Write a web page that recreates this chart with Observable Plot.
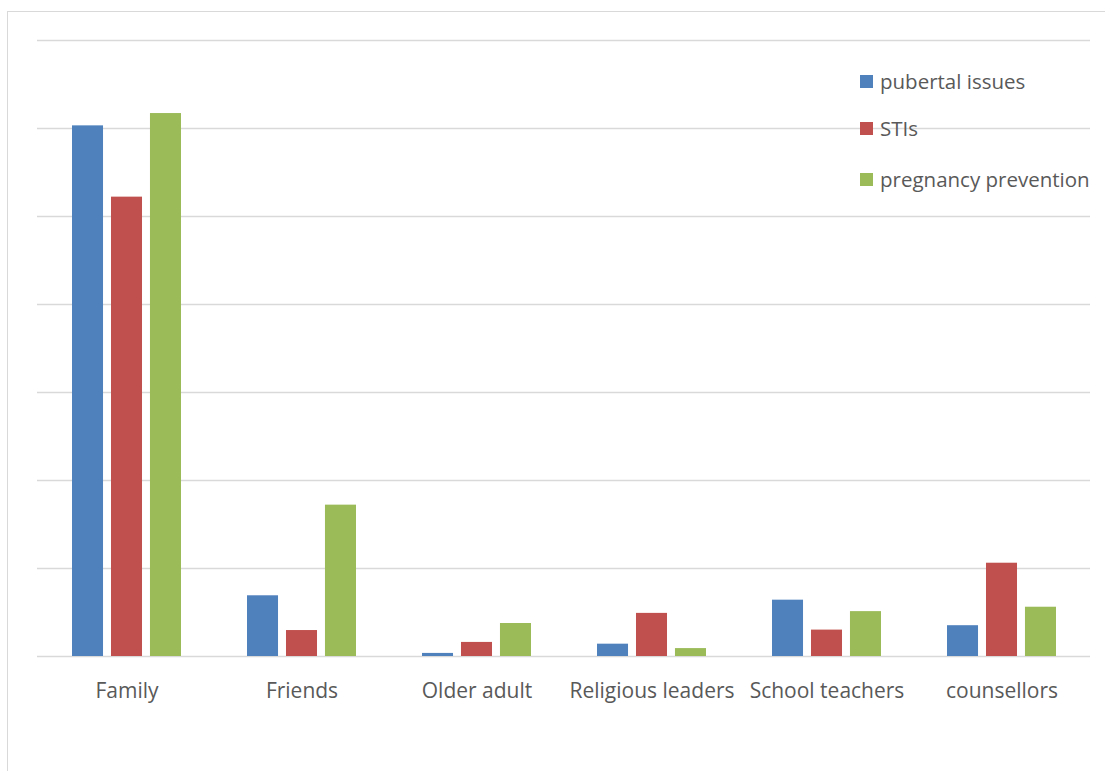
<!DOCTYPE html>
<html>
<head>
<meta charset="utf-8">
<script src="https://cdn.jsdelivr.net/npm/d3@7"></script>
<script src="https://cdn.jsdelivr.net/npm/@observablehq/plot@0.6"></script>
<style>
  html, body { margin: 0; padding: 0; background: #fff; }
  #wrap { position: relative; width: 1105px; height: 771px; overflow: hidden; font-family: "Open Sans", sans-serif; }
  #frame { position: absolute; left: 7px; top: 11px; width: 1200px; height: 900px; border-left: 1.5px solid #d9d9d9; border-top: 1.5px solid #d9d9d9; box-sizing: border-box; }
  #chart { position: absolute; left: 0; top: 0; }
  .item { position: absolute; left: 860px; display: flex; align-items: center; height: 30px; color: #595959; font-size: 20.5px; white-space: nowrap; }
  .sw { width: 13px; height: 13px; margin-right: 7px; }
</style>
</head>
<body>
<div id="wrap">
  <div id="frame"></div>
  <div id="chart"></div>
</div>
<script>
const categories = ["Family", "Friends", "Older adult", "Religious leaders", "School teachers", "counsellors"];
const seriesNames = ["pubertal issues", "STIs", "pregnancy prevention"];
const pubertalIssues = [60.3, 6.9, 0.35, 1.4, 6.4, 3.5];
const stis = [52.2, 2.95, 1.6, 4.9, 3.0, 10.6];
const pregnancyPrevention = [61.7, 17.2, 3.75, 0.9, 5.1, 5.6];
const seriesColors = ["#4f81bd", "#c0504d", "#9bbb59"];
const gridTicks = [0, 10, 20, 30, 40, 50, 60, 70];

const seriesValues = [pubertalIssues, stis, pregnancyPrevention];

const W = 1105, H = 771;
const mL = 37, mR = 15, mT = 40, mB = 115;
const padIn = 0.379, padOut = 0.19;
const plotW = W - mL - mR;
const step = plotW / (categories.length - padIn + 2 * padOut);
const bw = step * (1 - padIn);
const subPad = 0.205;
const sub = bw / (3 - subPad);
const barW = sub * (1 - subPad);

const barMarks = seriesValues.map((vals, i) => {
  const rows = categories.map((c, j) => ({category: c, value: vals[j], series: seriesNames[i]}));
  return Plot.barY(rows, {
    x: "category",
    y: "value",
    fill: seriesColors[i],
    insetLeft: i * sub,
    insetRight: bw - i * sub - barW
  });
});

const chart = Plot.plot({
  width: W,
  height: H,
  marginLeft: mL,
  marginRight: mR,
  marginTop: mT,
  marginBottom: mB,
  style: {fontFamily: "'Open Sans', sans-serif", background: "transparent"},
  x: {domain: categories, paddingInner: padIn, paddingOuter: padOut, label: null},
  y: {domain: [0, 70], axis: null},
  marks: [
    Plot.ruleY(gridTicks, {stroke: "#d9d9d9", strokeWidth: 1.5}),
    ...barMarks,
    Plot.axisX({tickSize: 0, tickPadding: 27, fontSize: 21, color: "#595959", label: null})
  ]
});
document.getElementById("chart").appendChild(chart);

const legendTops = [66, 113, 164];
const wrap = document.getElementById("wrap");
seriesNames.forEach((name, i) => {
  const item = document.createElement("div");
  item.className = "item";
  item.style.top = legendTops[i] + "px";
  const sw = document.createElement("div");
  sw.className = "sw";
  sw.style.background = seriesColors[i];
  const t = document.createElement("span");
  t.textContent = name;
  item.appendChild(sw);
  item.appendChild(t);
  wrap.appendChild(item);
});
</script>
</body>
</html>
